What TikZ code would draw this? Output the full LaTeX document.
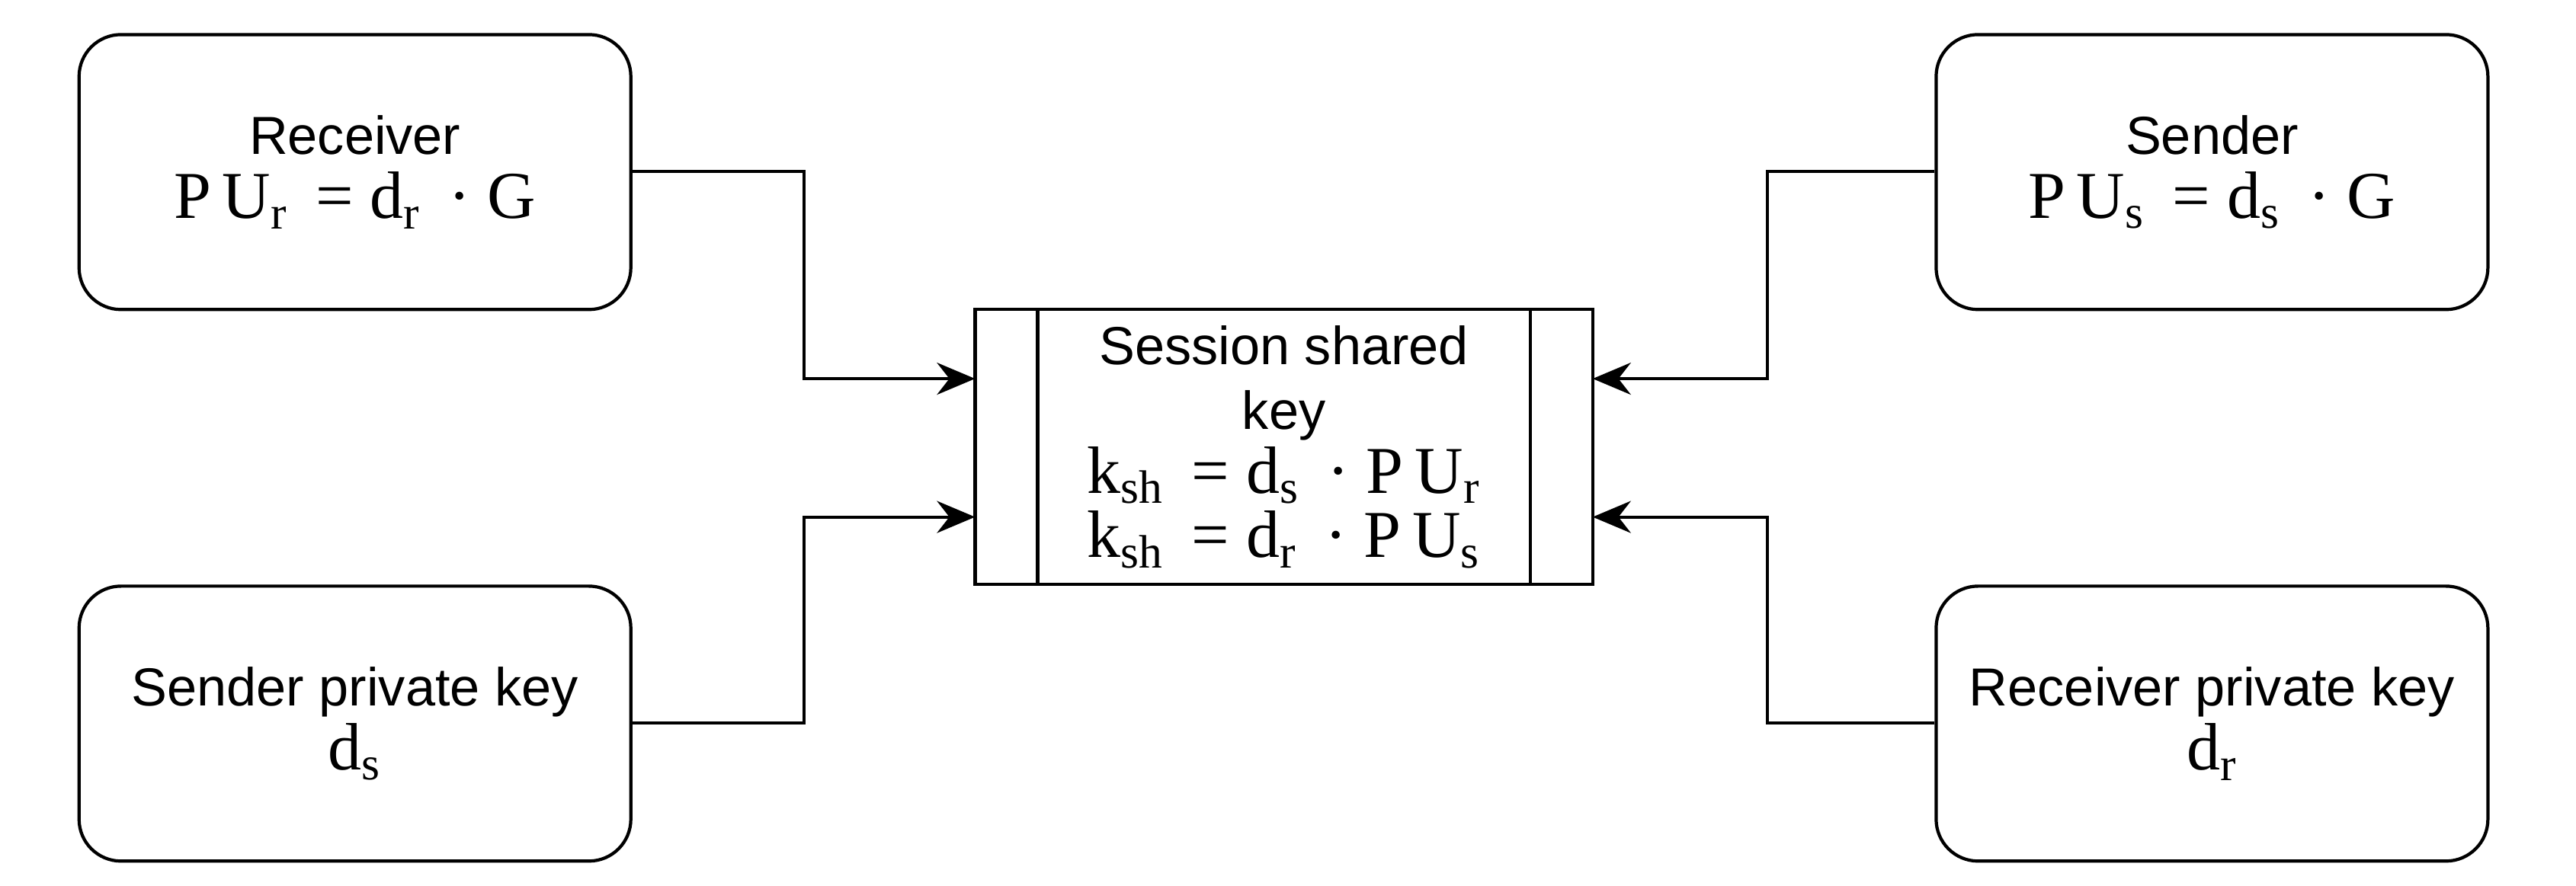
\documentclass[tikz,border=0pt]{standalone}
\usepackage{fontspec}
\setmainfont{Liberation Sans}
\newfontfamily\tms{Liberation Serif}
\usetikzlibrary{arrows.meta}
\newcommand{\sbs}[1]{\textsubscript{#1}}
\newcommand{\fml}[1]{{\tms\fontsize{25}{25}\selectfont #1}}
\begin{document}
\begin{tikzpicture}[x=0.02161cm,y=-0.02161cm,
  rbox/.style={draw,line width=1.2pt,rounded corners=0.55cm,minimum width=335*0.02161cm,minimum height=167*0.02161cm,align=center,font=\fontsize{20}{24}\selectfont,inner sep=0pt},
  conn/.style={line width=1.2pt,-{Stealth[length=0.5cm,width=0.42cm]}}]
\useasboundingbox (0,0) rectangle (1564,538);
\node[rbox] (rec) at (215.5,104.5) {Receiver\\\fml{P\,U\sbs{r} \,= d\sbs{r} \,· G}};
\node[rbox] (spk) at (215.5,439.5) {Sender private key\\\fml{d\sbs{s}}};
\node[rbox] (snd) at (1343,104.5) {Sender\\\fml{P\,U\sbs{s} \,= d\sbs{s} \,· G}};
\node[rbox] (rpk) at (1343,439.5) {Receiver private key\\\fml{d\sbs{r}}};
\node[draw,line width=1.2pt,minimum width=375*0.02161cm,minimum height=167*0.02161cm,inner sep=0pt,align=center,font=\fontsize{20}{24}\selectfont] (ctr) at (779.5,271.5) {Session shared\\key\\\fml{k\sbs{sh} \,= d\sbs{s} \,· P\,U\sbs{r}}\\\fml{k\sbs{sh} \,= d\sbs{r} \,· P\,U\sbs{s}}};
\draw[line width=1.2pt] (630,188) -- (630,355) (929,188) -- (929,355);
\coordinate (cl1) at (592,230); \coordinate (cl2) at (592,314);
\coordinate (cr1) at (967,230); \coordinate (cr2) at (967,314);
\draw[conn] (rec.east |- 0,104) -| (488,230) -- (cl1);
\draw[conn] (spk.east |- 0,439) -| (488,314) -- (cl2);
\draw[conn] (snd.west |- 0,104) -| (1073,230) -- (cr1);
\draw[conn] (rpk.west |- 0,439) -| (1073,314) -- (cr2);
\end{tikzpicture}
\end{document}
